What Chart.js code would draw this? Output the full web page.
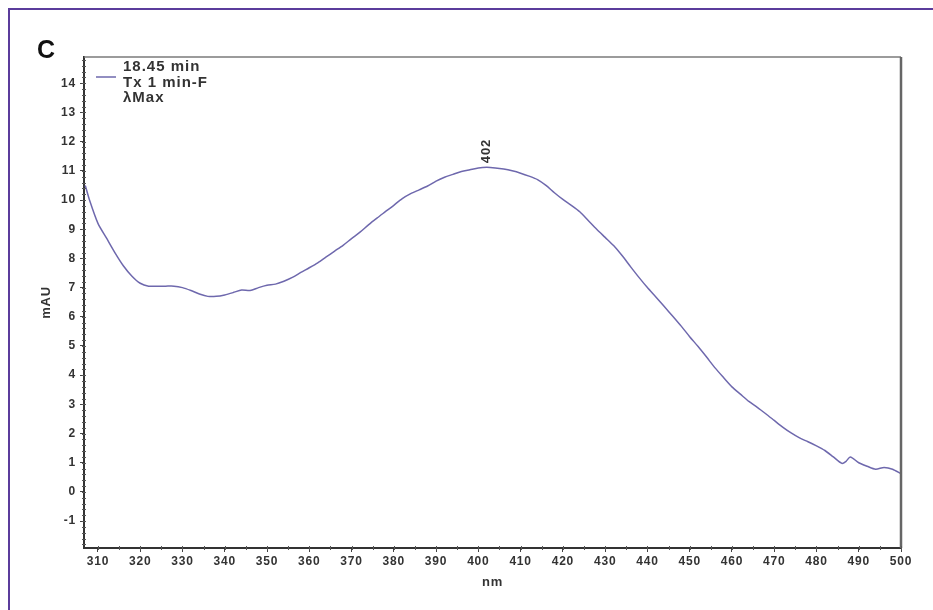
<!DOCTYPE html>
<html>
<head>
<meta charset="utf-8">
<script src="https://cdn.jsdelivr.net/npm/chart.js@4.4.0/dist/chart.umd.min.js"></script>
<style>
  html, body { margin: 0; padding: 0; background: #fff; }
  #wrap { position: relative; width: 933px; height: 610px; }
</style>
</head>
<body>
<div id="wrap"><canvas id="c" width="933" height="610"></canvas></div>
<script>
// ---- data ----
const wavelengths = [307,308,310,312,314,316,318,320,322,324,326,328,330,332,334,336,338,340,342,344,346,348,350,352,354,356,358,360,362,364,366,368,370,372,374,376,378,380,382,384,386,388,390,392,394,396,398,400,402,404,406,408,410,412,414,416,418,420,422,424,426,428,430,432,434,436,438,440,442,444,446,448,450,452,454,456,458,460,462,464,466,468,470,472,474,476,478,480,482,484,486,487,488,490,492,494,496,498,500];
const absorbance = [10.5,10.0,9.2,8.7,8.2,7.75,7.4,7.15,7.05,7.05,7.05,7.05,7.0,6.9,6.78,6.7,6.7,6.75,6.83,6.92,6.9,7.0,7.08,7.12,7.22,7.35,7.52,7.68,7.85,8.05,8.25,8.45,8.68,8.9,9.15,9.38,9.6,9.82,10.05,10.22,10.35,10.48,10.65,10.78,10.88,10.98,11.04,11.1,11.12,11.1,11.06,11.0,10.92,10.82,10.7,10.5,10.25,10.02,9.82,9.6,9.3,9.0,8.72,8.44,8.1,7.72,7.35,7.0,6.68,6.35,6.02,5.68,5.32,4.98,4.62,4.25,3.92,3.6,3.35,3.1,2.9,2.68,2.45,2.22,2.02,1.85,1.72,1.58,1.42,1.2,0.98,1.05,1.2,1.0,0.88,0.78,0.84,0.78,0.62];
const peakWavelengths = [402];
const legendLines = ["18.45 min", "Tx 1 min-F", "\u03BBMax"];
const panelLabel = "C";
const xTitle = "nm";
const yTitle = "mAU";
const xRange = [306.7, 500];
const yRange = [-1.92, 14.9];

const points = wavelengths.map((w, i) => ({ x: w, y: absorbance[i] }));
const lineColor = "#6e68ad";
const textColor = "#333";
const FAM = "'Liberation Sans', Arial, sans-serif";

const spacing = {
  id: "spacing",
  beforeDraw(chart) { chart.ctx.letterSpacing = "0.8px"; }
};

const decor = {
  id: "decor",
  afterDraw(chart) {
    const ctx = chart.ctx;
    const a = chart.chartArea;
    const xs = chart.scales.x, ys = chart.scales.y;
    ctx.save();
    // outer purple frame
    ctx.strokeStyle = "#5b3c9c";
    ctx.lineWidth = 2;
    ctx.beginPath();
    ctx.moveTo(9, 610); ctx.lineTo(9, 9); ctx.lineTo(933, 9);
    ctx.stroke();
    // top & right border of plot area
    ctx.strokeStyle = "#7a7a7a";
    ctx.lineWidth = 1.5;
    ctx.beginPath();
    ctx.moveTo(a.left, a.top); ctx.lineTo(a.right, a.top);
    ctx.stroke();
    ctx.strokeStyle = "#666";
    ctx.lineWidth = 2.5;
    ctx.beginPath();
    ctx.moveTo(a.right, a.top); ctx.lineTo(a.right, a.bottom);
    ctx.stroke();
    // minor ticks
    ctx.strokeStyle = "#555";
    ctx.lineWidth = 1;
    ctx.beginPath();
    for (let v = -1.8; v <= 14.85; v += 0.2) {
      const y = Math.round(ys.getPixelForValue(v)) + 0.5;
      ctx.moveTo(a.left - 2, y); ctx.lineTo(a.left + 2, y);
    }
    for (let v = 310; v <= 500; v += 5) {
      const x = Math.round(xs.getPixelForValue(v)) + 0.5;
      ctx.moveTo(x, a.bottom - 2); ctx.lineTo(x, a.bottom + 2);
    }
    ctx.stroke();
    // panel label
    ctx.letterSpacing = "0px";
    ctx.fillStyle = "#111";
    ctx.font = "bold 25px " + FAM;
    ctx.textAlign = "left";
    ctx.textBaseline = "middle";
    ctx.fillText(panelLabel, 37, 51);
    // legend
    ctx.strokeStyle = lineColor;
    ctx.lineWidth = 1.5;
    ctx.beginPath();
    ctx.moveTo(a.left + 12, 77); ctx.lineTo(a.left + 32, 77);
    ctx.stroke();
    ctx.letterSpacing = "1px";
    ctx.fillStyle = textColor;
    ctx.font = "bold 15px " + FAM;
    legendLines.forEach((t, i) => ctx.fillText(t, a.left + 39, 67 + i * 15.5));
    // peak labels
    ctx.font = "bold 13px " + FAM;
    peakWavelengths.forEach(w => {
      const idx = wavelengths.indexOf(w);
      const px = xs.getPixelForValue(w);
      const py = ys.getPixelForValue(absorbance[idx]);
      ctx.save();
      ctx.translate(px, py - 4);
      ctx.rotate(-Math.PI / 2);
      ctx.textAlign = "left";
      ctx.textBaseline = "middle";
      ctx.fillText(String(w), 0, 0);
      ctx.restore();
    });
    ctx.restore();
  }
};

new Chart(document.getElementById("c"), {
  type: "line",
  data: {
    datasets: [{
      data: points,
      borderColor: lineColor,
      borderWidth: 1.5,
      pointRadius: 0,
      tension: 0.25,
      fill: false
    }]
  },
  options: {
    responsive: false,
    animation: false,
    layout: { padding: { left: 0, top: 57, right: 32, bottom: 0 } },
    plugins: { legend: { display: false }, tooltip: { enabled: false } },
    scales: {
      x: {
        type: "linear",
        min: xRange[0], max: xRange[1],
        afterFit(s) { s.height = 62; },
        ticks: { stepSize: 10, includeBounds: false, color: textColor, padding: 2, maxRotation: 0,
                 font: { family: FAM, size: 12, weight: "bold" } },
        grid: { drawOnChartArea: false, drawTicks: true, tickLength: 4, color: "#444" },
        border: { display: true, color: "#333", width: 2 },
        title: { display: true, text: xTitle, color: textColor, padding: { top: 0, bottom: 20 },
                 font: { family: FAM, size: 13, weight: "bold" } }
      },
      y: {
        type: "linear",
        min: yRange[0], max: yRange[1],
        afterFit(s) { s.width = 84; },
        ticks: { stepSize: 1, includeBounds: false, color: textColor, padding: 4,
                 font: { family: FAM, size: 12, weight: "bold" } },
        grid: { drawOnChartArea: false, drawTicks: true, tickLength: 4, color: "#444" },
        border: { display: true, color: "#333", width: 2 },
        title: { display: true, text: yTitle, color: textColor, padding: { top: 39, bottom: 0 },
                 font: { family: FAM, size: 13, weight: "bold" } }
      }
    }
  },
  plugins: [spacing, decor]
});
</script>
</body>
</html>
